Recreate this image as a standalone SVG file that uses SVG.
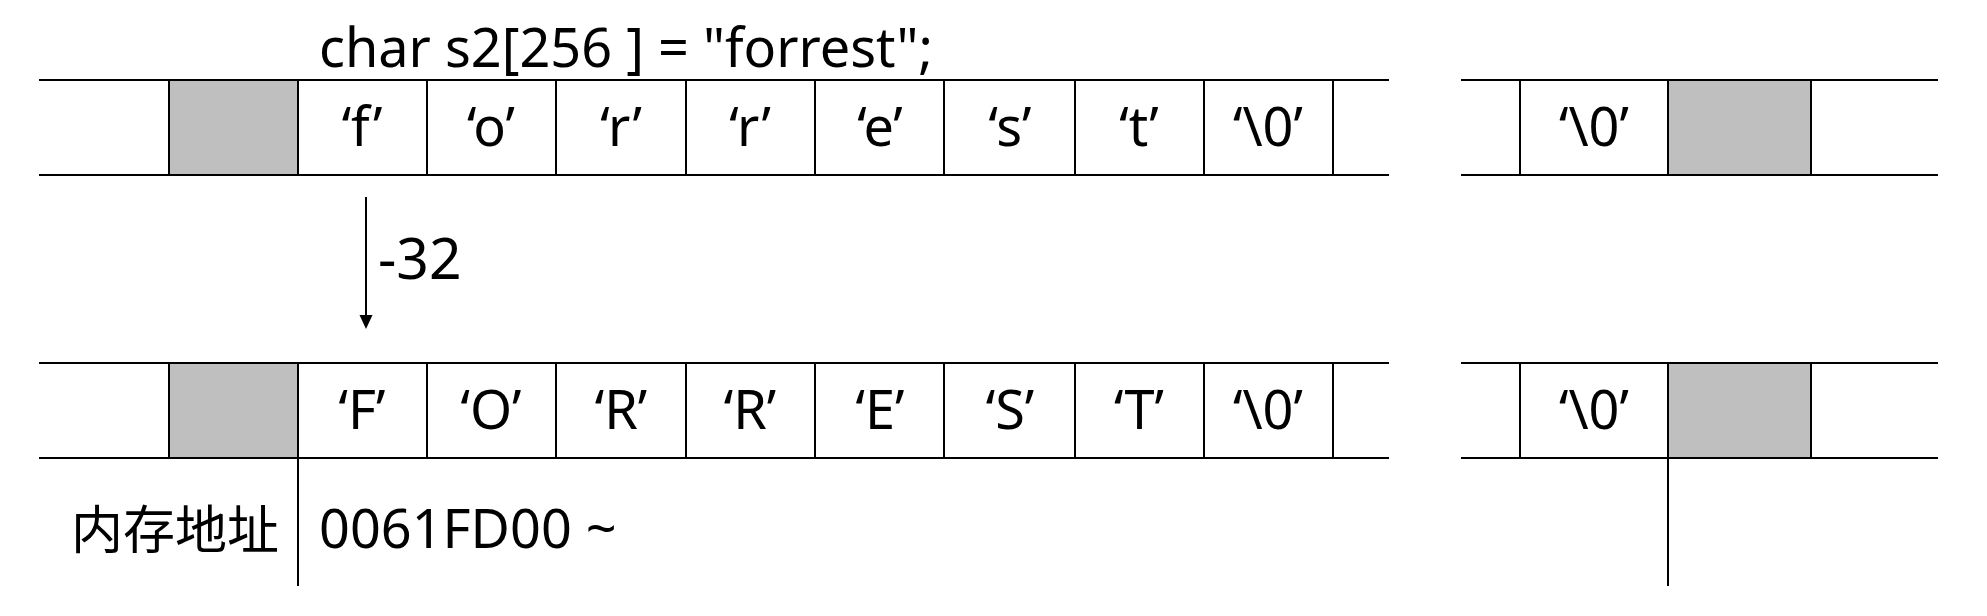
<svg xmlns="http://www.w3.org/2000/svg" width="1987" height="616" viewBox="0 0 1987 616">
<style>
.ln{stroke:#000;stroke-width:2;fill:none}
.gray{fill:#BFBFBF;stroke:#000;stroke-width:2}
.t{font-family:"Noto Sans","Open Sans","Noto Sans CJK SC",sans-serif;font-size:54px;fill:#000}
.c{text-anchor:middle}
.cjk{font-family:"Noto Sans CJK SC",sans-serif;font-size:52px}
</style>
<rect width="1987" height="616" fill="#fff"/>
<text id="title" class="t" x="319" y="67">char s2[256 ] = "forrest";</text>

<g id="row-top">
<line class="ln" x1="39" y1="80" x2="1389" y2="80"/>
<line class="ln" x1="39" y1="175" x2="1389" y2="175"/>
<rect class="gray" x="169" y="80" width="129" height="95"/>
<line class="ln" x1="427" y1="80" x2="427" y2="175"/>
<line class="ln" x1="556" y1="80" x2="556" y2="175"/>
<line class="ln" x1="686" y1="80" x2="686" y2="175"/>
<line class="ln" x1="815" y1="80" x2="815" y2="175"/>
<line class="ln" x1="944" y1="80" x2="944" y2="175"/>
<line class="ln" x1="1075" y1="80" x2="1075" y2="175"/>
<line class="ln" x1="1204" y1="80" x2="1204" y2="175"/>
<line class="ln" x1="1333" y1="80" x2="1333" y2="175"/>
<text class="t c" x="362" y="146">‘f’</text>
<text class="t c" x="491" y="146">‘o’</text>
<text class="t c" x="621" y="146">‘r’</text>
<text class="t c" x="750" y="146">‘r’</text>
<text class="t c" x="880" y="146">‘e’</text>
<text class="t c" x="1010" y="146">‘s’</text>
<text class="t c" x="1139" y="146">‘t’</text>
<text class="t c" x="1268" y="146">‘\0’</text>
</g>

<g id="row-top-right">
<line class="ln" x1="1461" y1="80" x2="1938" y2="80"/>
<line class="ln" x1="1461" y1="175" x2="1938" y2="175"/>
<line class="ln" x1="1520" y1="80" x2="1520" y2="175"/>
<rect class="gray" x="1668" y="80" width="143" height="95"/>
<text class="t c" x="1594" y="146">‘\0’</text>
</g>

<g id="row-bottom">
<line class="ln" x1="39" y1="363" x2="1389" y2="363"/>
<line class="ln" x1="39" y1="458" x2="1389" y2="458"/>
<rect class="gray" x="169" y="363" width="129" height="95"/>
<line class="ln" x1="427" y1="363" x2="427" y2="458"/>
<line class="ln" x1="556" y1="363" x2="556" y2="458"/>
<line class="ln" x1="686" y1="363" x2="686" y2="458"/>
<line class="ln" x1="815" y1="363" x2="815" y2="458"/>
<line class="ln" x1="944" y1="363" x2="944" y2="458"/>
<line class="ln" x1="1075" y1="363" x2="1075" y2="458"/>
<line class="ln" x1="1204" y1="363" x2="1204" y2="458"/>
<line class="ln" x1="1333" y1="363" x2="1333" y2="458"/>
<text class="t c" x="362" y="429">‘F’</text>
<text class="t c" x="491" y="429">‘O’</text>
<text class="t c" x="621" y="429">‘R’</text>
<text class="t c" x="750" y="429">‘R’</text>
<text class="t c" x="880" y="429">‘E’</text>
<text class="t c" x="1010" y="429">‘S’</text>
<text class="t c" x="1139" y="429">‘T’</text>
<text class="t c" x="1268" y="429">‘\0’</text>
</g>

<g id="row-bottom-right">
<line class="ln" x1="1461" y1="363" x2="1938" y2="363"/>
<line class="ln" x1="1461" y1="458" x2="1938" y2="458"/>
<line class="ln" x1="1520" y1="363" x2="1520" y2="458"/>
<rect class="gray" x="1668" y="363" width="143" height="95"/>
<text class="t c" x="1594" y="429">‘\0’</text>
</g>

<g id="address">
<line class="ln" x1="298" y1="458" x2="298" y2="586"/>
<line class="ln" x1="1668" y1="458" x2="1668" y2="586"/>
<text class="cjk" x="71" y="549">内存地址</text>
<text class="t" x="319" y="548">0061FD00 ~</text>
</g>

<g id="connectors">
<line class="ln" x1="366" y1="197" x2="366" y2="318"/>
<path d="M359.5,315 L372.5,315 L366,329 Z" fill="#000"/>
<text class="t" x="378" y="279" style="font-size:57px">-32</text>
</g>
</svg>
